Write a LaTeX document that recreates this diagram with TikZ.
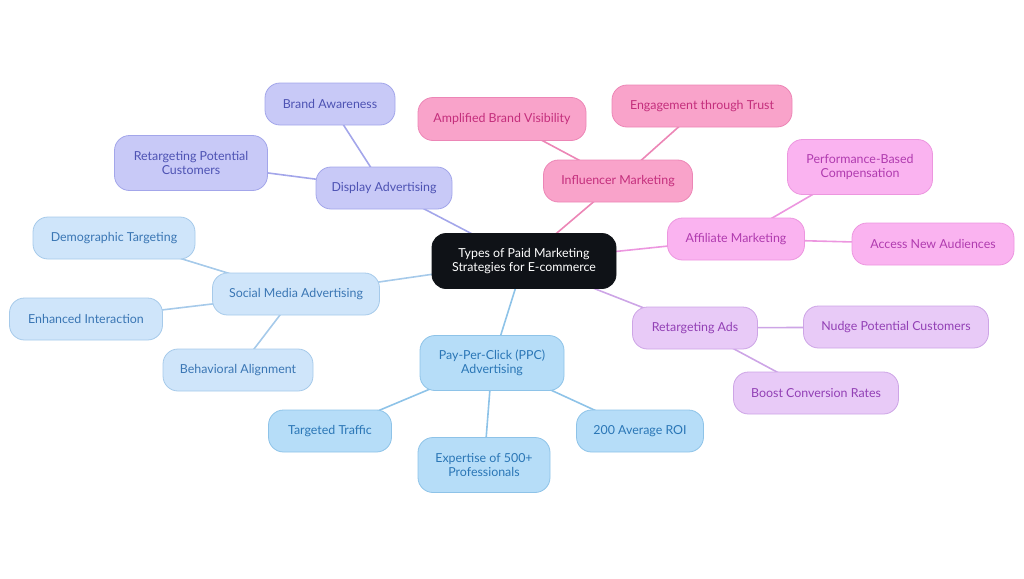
\documentclass[tikz,border=0pt]{standalone}
\usepackage{fontspec}
\setmainfont{Lato}
\usetikzlibrary{backgrounds}
\definecolor{cdark}{HTML}{0F1217}
\definecolor{lavF}{HTML}{C8C9F7}\definecolor{lavD}{HTML}{A3A6EA}\definecolor{lavT}{HTML}{4D52B3}
\definecolor{pnkF}{HTML}{F9A3CA}\definecolor{pnkD}{HTML}{EC86B6}\definecolor{pnkT}{HTML}{C42E7C}
\definecolor{magF}{HTML}{FAB3F0}\definecolor{magD}{HTML}{EC96DF}\definecolor{magT}{HTML}{B03BAF}
\definecolor{purF}{HTML}{E8CAF7}\definecolor{purD}{HTML}{CDA5E6}\definecolor{purT}{HTML}{9240B5}
\definecolor{skyF}{HTML}{B6DDF8}\definecolor{skyD}{HTML}{8EC3E8}\definecolor{skyT}{HTML}{2A76B6}
\definecolor{bluF}{HTML}{CFE5FA}\definecolor{bluD}{HTML}{A6CAEA}\definecolor{bluT}{HTML}{3A76B4}
\tikzset{
  box/.style={rounded corners=15pt, line width=0.8pt, align=center, inner sep=0pt,
    font=\fontsize{12.4}{13.5}\selectfont},
  lav/.style={box, fill=lavF, draw=lavD, text=lavT},
  pnk/.style={box, fill=pnkF, draw=pnkD, text=pnkT},
  mag/.style={box, fill=magF, draw=magD, text=magT},
  pur/.style={box, fill=purF, draw=purD, text=purT},
  sky/.style={box, fill=skyF, draw=skyD, text=skyT},
  blu/.style={box, fill=bluF, draw=bluD, text=bluT},
  edge/.style={line width=1.6pt},
}
\newcommand{\bx}[6]{\node[#1, minimum width=#4pt, minimum height=#5pt] (#2) at (#3) {#6};}
\begin{document}
\begin{tikzpicture}[x=1pt,y=-1pt]
\useasboundingbox (0,0) rectangle (1024,578);
% central
\node[box, fill=cdark, draw=cdark, text=white, rounded corners=14pt, minimum width=184pt, minimum height=55pt] (c) at (524,261) {Types of Paid Marketing\\Strategies for E-commerce};
% display
\bx{lav}{disp}{384,188}{136}{42}{Display Advertising}
\bx{lav}{brand}{330,104}{130}{42}{Brand Awareness}
\bx{lav}{retpc}{191,163}{153}{55}{Retargeting Potential\\Customers}
% influencer
\bx{pnk}{infl}{618,181}{149}{42}{Influencer Marketing}
\bx{pnk}{ampl}{502,119}{168}{43}{Amplified Brand Visibility}
\bx{pnk}{enga}{702,106}{180}{42}{Engagement through Trust}
% affiliate
\bx{mag}{affi}{736,239}{137}{42}{Affiliate Marketing}
\bx{mag}{perf}{860,167}{145}{55}{Performance-Based\\Compensation}
\bx{mag}{acce}{933,244}{162}{42}{Access New Audiences}
% retargeting ads
\bx{pur}{reta}{695,328}{125}{42}{Retargeting Ads}
\bx{pur}{nudg}{896,327}{185}{42}{Nudge Potential Customers}
\bx{pur}{boos}{816,393}{165}{42}{Boost Conversion Rates}
% ppc
\bx{sky}{ppc}{492,363}{144}{55}{Pay-Per-Click (PPC)\\Advertising}
\bx{sky}{targ}{330,431}{123}{42}{Targeted Traffic}
\bx{sky}{expe}{484,465}{132}{55}{Expertise of 500+\\Professionals}
\bx{sky}{roi}{640,431}{127}{42}{200 Average ROI}
% social
\bx{blu}{soci}{296,294}{167}{42}{Social Media Advertising}
\bx{blu}{demo}{114,238}{162}{42}{Demographic Targeting}
\bx{blu}{enha}{86,319}{153}{42}{Enhanced Interaction}
\bx{blu}{beha}{238,370}{150}{42}{Behavioral Alignment}
\begin{scope}[on background layer]
\draw[edge, lavD] (c.center) -- (disp.center);
\draw[edge, lavD] (disp.center) -- (brand.center);
\draw[edge, lavD] (disp.center) -- (retpc.center);
\draw[edge, pnkD] (c.center) -- (infl.center);
\draw[edge, pnkD] (infl.center) -- (ampl.center);
\draw[edge, pnkD] (infl.center) -- (enga.center);
\draw[edge, magD] (c.center) -- (affi.center);
\draw[edge, magD] (affi.center) -- (perf.center);
\draw[edge, magD] (affi.center) -- (acce.center);
\draw[edge, purD] (c.center) -- (reta.center);
\draw[edge, purD] (reta.center) -- (nudg.center);
\draw[edge, purD] (reta.center) -- (boos.center);
\draw[edge, skyD] (c.center) -- (ppc.center);
\draw[edge, skyD] (ppc.center) -- (targ.center);
\draw[edge, skyD] (ppc.center) -- (expe.center);
\draw[edge, skyD] (ppc.center) -- (roi.center);
\draw[edge, bluD] (c.center) -- (soci.center);
\draw[edge, bluD] (soci.center) -- (demo.center);
\draw[edge, bluD] (soci.center) -- (enha.center);
\draw[edge, bluD] (soci.center) -- (beha.center);
\end{scope}
\end{tikzpicture}
\end{document}
